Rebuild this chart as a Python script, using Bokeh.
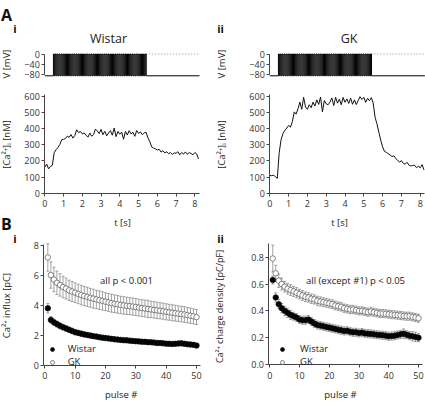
import math
from bokeh.plotting import figure
from bokeh.models import (ColumnDataSource, FixedTicker, Label, Legend, LegendItem,
                          Whisker, TeeHead, PrintfTickFormatter, Range1d, LinearAxis)
from bokeh.embed import file_html
from bokeh.resources import INLINE

FONT = "Open Sans"

# ---------------- data ----------------
# A: depolarising pulse train (onsets, s) and holding / pulse potentials (mV)
pulse_onsets_s = [0.46, 0.56, 0.66, 0.76, 0.86, 0.96, 1.06, 1.16, 1.26, 1.36,
                  1.46, 1.56, 1.66, 1.76, 1.86, 1.96, 2.06, 2.16, 2.26, 2.36,
                  2.46, 2.56, 2.66, 2.76, 2.86, 2.96, 3.06, 3.16, 3.26, 3.36,
                  3.46, 3.56, 3.66, 3.76, 3.86, 3.96, 4.06, 4.16, 4.26, 4.36,
                  4.46, 4.56, 4.66, 4.76, 4.86, 4.96, 5.06, 5.16, 5.26, 5.36]
pulse_width_s = 0.05
holding_mV = -85
pulse_mV = 0
v_ticks = [-80, -40, 0]

ca_time_s = [0.0, 0.1, 0.2, 0.3, 0.4, 0.5, 0.6, 0.7, 0.8, 0.9,
             1.0, 1.1, 1.2, 1.3, 1.4, 1.5, 1.6, 1.7, 1.8, 1.9,
             2.0, 2.1, 2.2, 2.3, 2.4, 2.5, 2.6, 2.7, 2.8, 2.9,
             3.0, 3.1, 3.2, 3.3, 3.4, 3.5, 3.6, 3.7, 3.8, 3.9,
             4.0, 4.1, 4.2, 4.3, 4.4, 4.5, 4.6, 4.7, 4.8, 4.9,
             5.0, 5.1, 5.2, 5.3, 5.4, 5.5, 5.6, 5.7, 5.8, 5.9,
             6.0, 6.1, 6.2, 6.3, 6.4, 6.5, 6.6, 6.7, 6.8, 6.9,
             7.0, 7.1, 7.2, 7.3, 7.4, 7.5, 7.6, 7.7, 7.8, 7.9,
             8.0, 8.1, 8.2]
ca_wistar_nM = [160, 180, 150, 165, 172, 250, 268, 282, 300, 330,
                332, 338, 352, 345, 362, 340, 356, 392, 374, 381,
                366, 372, 358, 346, 371, 352, 362, 396, 384, 368,
                394, 361, 382, 354, 372, 386, 358, 402, 349, 381,
                364, 377, 333, 382, 359, 386, 366, 376, 351, 387,
                369, 378, 361, 372, 376, 342, 318, 286, 279, 274,
                266, 271, 254, 262, 249, 256, 244, 251, 239, 249,
                246, 256, 237, 251, 241, 255, 240, 251, 245, 237,
                251, 242, 212]
ca_gk_nM = [110, 108, 111, 102, 92, 250, 330, 368, 388, 402,
            418, 408, 442, 502, 488, 522, 562, 518, 592, 532,
            518, 546, 528, 562, 538, 576, 548, 594, 502, 572,
            552, 546, 562, 588, 541, 592, 556, 581, 546, 591,
            561, 582, 554, 586, 549, 576, 547, 571, 596, 579,
            592, 561, 586, 571, 590, 556, 468, 428, 376, 328,
            286, 258, 252, 244, 236, 226, 231, 214, 204, 191,
            201, 184, 179, 191, 174, 168, 171, 173, 158, 166,
            157, 176, 144]
t_ticks = [0, 1, 2, 3, 4, 5, 6, 7, 8]
ca_ticks = [0, 100, 200, 300, 400, 500, 600]

# B: per-pulse Ca2+ influx and charge density (mean, SEM)
pulse_number = list(range(1, 51))
influx_wistar_pC = [3.80, 3.02, 2.86, 2.74, 2.62, 2.53, 2.45, 2.36, 2.28, 2.20,
                    2.15, 2.10, 2.05, 2.01, 1.97, 1.93, 1.90, 1.86, 1.83, 1.80,
                    1.78, 1.75, 1.72, 1.70, 1.68, 1.66, 1.65, 1.63, 1.61, 1.59,
                    1.58, 1.56, 1.55, 1.53, 1.52, 1.50, 1.48, 1.47, 1.45, 1.43,
                    1.42, 1.41, 1.42, 1.44, 1.45, 1.42, 1.39, 1.37, 1.35, 1.30]
influx_wistar_err = [0.32, 0.22, 0.21, 0.20, 0.20, 0.19, 0.19, 0.18, 0.18, 0.18,
                     0.17, 0.17, 0.17, 0.17, 0.16, 0.16, 0.16, 0.16, 0.16, 0.16,
                     0.15, 0.15, 0.15, 0.15, 0.15, 0.15, 0.15, 0.15, 0.15, 0.15,
                     0.15, 0.15, 0.15, 0.14, 0.14, 0.14, 0.14, 0.14, 0.14, 0.14,
                     0.14, 0.14, 0.15, 0.15, 0.16, 0.15, 0.15, 0.15, 0.15, 0.14]
influx_gk_pC = [7.20, 6.02, 5.72, 5.50, 5.36, 5.22, 5.12, 5.00, 4.92, 4.84,
                4.76, 4.68, 4.62, 4.56, 4.50, 4.44, 4.39, 4.34, 4.29, 4.24,
                4.19, 4.14, 4.10, 4.06, 4.02, 3.99, 3.96, 3.94, 3.91, 3.88,
                3.84, 3.81, 3.78, 3.75, 3.72, 3.69, 3.66, 3.63, 3.60, 3.56,
                3.53, 3.50, 3.47, 3.44, 3.41, 3.38, 3.34, 3.30, 3.26, 3.21]
influx_gk_err = [0.92, 0.88, 0.82, 0.78, 0.75, 0.72, 0.70, 0.68, 0.67, 0.66,
                 0.65, 0.65, 0.64, 0.64, 0.63, 0.63, 0.62, 0.62, 0.61, 0.60,
                 0.60, 0.60, 0.59, 0.59, 0.58, 0.58, 0.58, 0.57, 0.57, 0.57,
                 0.56, 0.56, 0.56, 0.58, 0.55, 0.55, 0.55, 0.54, 0.54, 0.54,
                 0.53, 0.53, 0.53, 0.52, 0.52, 0.52, 0.51, 0.51, 0.50, 0.50]
density_wistar = [0.63, 0.50, 0.45, 0.42, 0.40, 0.385, 0.37, 0.36, 0.35, 0.335,
                  0.33, 0.33, 0.335, 0.32, 0.305, 0.295, 0.29, 0.285, 0.28, 0.275,
                  0.27, 0.265, 0.26, 0.255, 0.25, 0.252, 0.245, 0.24, 0.24, 0.235,
                  0.238, 0.232, 0.23, 0.228, 0.225, 0.222, 0.22, 0.218, 0.215, 0.21,
                  0.212, 0.215, 0.22, 0.225, 0.23, 0.222, 0.215, 0.21, 0.205, 0.20]
density_wistar_err = [0.03, 0.035, 0.035, 0.035, 0.035, 0.035, 0.035, 0.03, 0.03, 0.03,
                      0.03, 0.03, 0.03, 0.03, 0.03, 0.03, 0.03, 0.03, 0.03, 0.03,
                      0.03, 0.03, 0.03, 0.03, 0.03, 0.03, 0.03, 0.03, 0.03, 0.03,
                      0.03, 0.03, 0.03, 0.03, 0.03, 0.03, 0.03, 0.03, 0.03, 0.03,
                      0.03, 0.03, 0.03, 0.03, 0.035, 0.03, 0.03, 0.035, 0.035, 0.03]
density_gk = [0.79, 0.68, 0.625, 0.60, 0.58, 0.565, 0.555, 0.545, 0.535, 0.525,
              0.515, 0.505, 0.50, 0.49, 0.485, 0.475, 0.47, 0.465, 0.46, 0.455,
              0.45, 0.44, 0.435, 0.43, 0.42, 0.415, 0.41, 0.41, 0.405, 0.40,
              0.40, 0.395, 0.39, 0.395, 0.39, 0.385, 0.38, 0.38, 0.378, 0.375,
              0.372, 0.37, 0.368, 0.365, 0.362, 0.36, 0.36, 0.355, 0.35, 0.345]
density_gk_err = [0.10, 0.06, 0.05, 0.045, 0.04, 0.04, 0.04, 0.038, 0.038, 0.036,
                  0.036, 0.035, 0.035, 0.035, 0.034, 0.034, 0.034, 0.033, 0.033, 0.033,
                  0.032, 0.032, 0.032, 0.032, 0.031, 0.031, 0.031, 0.031, 0.03, 0.03,
                  0.03, 0.03, 0.03, 0.032, 0.03, 0.03, 0.03, 0.03, 0.03, 0.03,
                  0.03, 0.03, 0.03, 0.03, 0.03, 0.03, 0.03, 0.03, 0.03, 0.03]
pulse_ticks = [0, 10, 20, 30, 40, 50]
influx_ticks = [0, 2, 4, 6, 8]
density_ticks = [0.0, 0.2, 0.4, 0.6, 0.8]

# ---------------- canvas geometry (page pixels; Bokeh's page has no body margin) ----
CANVAS_L, CANVAS_T = 0, 0
CANVAS_W, CANVAS_H = 425, 402
CANVAS_R, CANVAS_B = CANVAS_L + CANVAS_W, CANVAS_T + CANVAS_H
AXC = "#444"
TXT = "#222"
T_SPAN = (0, 8.25)
P_SPAN = (-0.3, 51.3)

p = figure(width=CANVAS_W, height=CANVAS_H,
           x_range=Range1d(CANVAS_L, CANVAS_R), y_range=Range1d(CANVAS_B, CANVAS_T),
           output_backend="svg", toolbar_location=None, tools="",
           x_axis_location=None, y_axis_location=None, min_border=0)
p.min_border_left = p.min_border_right = p.min_border_top = p.min_border_bottom = 0
p.outline_line_color = None
p.background_fill_color = "white"
p.border_fill_color = "white"
for g in p.grid:
    g.visible = False


def x_panel(name, data, page):
    k = (page[1] - page[0]) / (data[1] - data[0])
    p.extra_x_ranges[name] = Range1d(data[0] - (page[0] - CANVAS_L) / k,
                                     data[0] + (CANVAS_R - page[0]) / k)


def y_panel(name, data, page):
    # page[0]: page y of data[0] (lower value), page[1]: page y of data[1]
    k = (page[0] - page[1]) / (data[1] - data[0])
    p.extra_y_ranges[name] = Range1d(data[0] - (CANVAS_B - page[0]) / k,
                                     data[0] + (page[0] - CANVAS_T) / k)


x_panel("a1x", (0, 8), (44.3, 194.3))
x_panel("a2x", (0, 8), (269.3, 419.7))
x_panel("b1x", (0, 50), (44.3, 196.0))
x_panel("b2x", (0, 50), (269.3, 418.0))
y_panel("vy", (-80, 0), (74.0, 53.5))
y_panel("cay", (0, 600), (192.7, 95.5))
y_panel("b1y", (0, 8), (364.5, 245.0))
y_panel("b2y", (0, 0.8), (364.0, 256.7))


def style(ax, standoff):
    ax.axis_line_color = AXC
    ax.axis_line_width = 1
    ax.major_tick_line_color = AXC
    ax.major_tick_out = 3
    ax.major_tick_in = 0
    ax.minor_tick_line_color = None
    ax.major_label_standoff = standoff
    ax.major_label_text_font = FONT
    ax.major_label_text_font_size = "9px"
    ax.major_label_text_color = "#333"
    return ax


def y_axis(xn, yn, ticks, bounds, at, fmt=None):
    ax = style(LinearAxis(x_range_name=xn, y_range_name=yn, ticker=FixedTicker(ticks=ticks),
                          bounds=bounds, fixed_location=at), 2)
    if fmt:
        ax.formatter = PrintfTickFormatter(format=fmt)
    p.add_layout(ax, "left")


def x_axis(xn, yn, ticks, bounds, at):
    ax = style(LinearAxis(x_range_name=xn, y_range_name=yn, ticker=FixedTicker(ticks=ticks),
                          bounds=bounds, fixed_location=at), 4)
    p.add_layout(ax, "below")


def text(px, py, s, size="9.5px", bold=False, align="center", baseline="middle",
         angle=0.0, color=TXT):
    p.add_layout(Label(x=px, y=py, text=s, text_font=FONT, text_font_size=size,
                       text_font_style="bold" if bold else "normal",
                       text_align=align, text_baseline=baseline, angle=angle,
                       text_color=color))


# ---------------- A: voltage protocol + Ca traces ----------------
def voltage_xy():
    xs, ys = [T_SPAN[0]], [holding_mV]
    for on in pulse_onsets_s:
        off = on + pulse_width_s
        xs += [on, on, off, off]
        ys += [holding_mV, pulse_mV, pulse_mV, holding_mV]
    xs.append(T_SPAN[1])
    ys.append(holding_mV)
    return xs, ys


vx, vy = voltage_xy()
last_off = pulse_onsets_s[-1] + pulse_width_s
for xn, trace in (("a1x", ca_wistar_nM), ("a2x", ca_gk_nM)):
    p.segment(x0=[last_off], y0=[pulse_mV], x1=[T_SPAN[1]], y1=[pulse_mV],
              line_color="#777", line_width=0.8, line_dash="1 2",
              x_range_name=xn, y_range_name="vy")
    p.line(vx, vy, line_color="#000", line_width=1.0, x_range_name=xn, y_range_name="vy")
    y_axis(xn, "vy", v_ticks, (min(v_ticks), max(v_ticks)), T_SPAN[0])
    p.line(ca_time_s, trace, line_color="#111", line_width=1,
           x_range_name=xn, y_range_name="cay")
    y_axis(xn, "cay", ca_ticks, (0, 610), T_SPAN[0])
    x_axis(xn, "cay", t_ticks, T_SPAN, 0)

# ---------------- B: per-pulse summaries ----------------
GREY = "#8a8a8a"


def pulse_panel(xn, yn, wistar, wistar_err, gk, gk_err, ticks, ytop, fmt,
                leg_x, leg_standoff):
    rs = {}
    for name, vals, errs, fill, edge in (("GK", gk, gk_err, "white", "#555"),
                                         ("Wistar", wistar, wistar_err, "black", "#111")):
        src = ColumnDataSource(dict(
            pulse=pulse_number, val=vals,
            upper=[v + e for v, e in zip(vals, errs)],
            lower=[v - e for v, e in zip(vals, errs)]))
        p.add_layout(Whisker(source=src, base="pulse", upper="upper", lower="lower",
                             x_range_name=xn, y_range_name=yn,
                             line_color=GREY, line_width=0.8,
                             upper_head=TeeHead(size=3, line_color=GREY, line_width=0.8),
                             lower_head=TeeHead(size=3, line_color=GREY, line_width=0.8)))
        rs[name] = p.scatter("pulse", "val", source=src, marker="circle", size=5.5,
                             fill_color=fill, line_color=edge, line_width=0.7,
                             x_range_name=xn, y_range_name=yn)
    y_axis(xn, yn, ticks, (0, ytop), P_SPAN[0], fmt)
    x_axis(xn, yn, pulse_ticks, P_SPAN, 0)
    p.add_layout(Legend(items=[LegendItem(label="Wistar", renderers=[rs["Wistar"]]),
                               LegendItem(label="GK", renderers=[rs["GK"]])],
                        location=(leg_x, CANVAS_B - 368), glyph_width=12, glyph_height=10,
                        label_height=10, spacing=0, padding=0, margin=0,
                        label_standoff=leg_standoff, border_line_color=None,
                        background_fill_alpha=0, label_text_font=FONT,
                        label_text_font_size="9.5px", label_text_color=TXT,
                        label_text_line_height=1.0))


pulse_panel("b1x", "b1y", influx_wistar_pC, influx_wistar_err, influx_gk_pC,
            influx_gk_err, influx_ticks, 8.1, None, 45.7 - CANVAS_L, 10)
pulse_panel("b2x", "b2y", density_wistar, density_wistar_err, density_gk,
            density_gk_err, density_ticks, 0.9, "%.1f", 276 - CANVAS_L, 12)

# ---------------- texts ----------------
UP = math.pi / 2
text(0.5, 14, "A", "16px", True, align="left", baseline="alphabetic", color="#111")
text(14.5, 28, "i", "11px", True, baseline="alphabetic", color="#111")
text(108, 38, "Wistar", "12.5px")
text(220, 28, "ii", "11px", True, baseline="alphabetic", color="#111")
text(348.5, 38, "GK", "12.5px")
text(6, 63.5, "V [mV]", angle=UP)
text(221, 63.5, "V [mV]", angle=UP)
text(6, 144, "[Ca²⁺]ᵢ [nM]", angle=UP)
text(221, 144, "[Ca²⁺]ᵢ [nM]", angle=UP)
text(122, 222, "t [s]")
text(339, 222, "t [s]")
text(0.5, 223, "B", "16px", True, align="left", baseline="alphabetic", color="#111")
text(14.5, 238, "i", "11px", True, baseline="alphabetic", color="#111")
text(220, 238, "ii", "11px", True, baseline="alphabetic", color="#111")
text(6, 305, "Ca²⁺ influx [pC]", angle=UP)
text(219, 306, "Ca²⁺ charge density [pC/pF]", "9px", angle=UP)
text(120.7, 394, "pulse #")
text(340, 394, "pulse #")
text(126, 280, "all p < 0.001")
text(355, 280, "all (except #1) p < 0.05")

open("out.html", "w").write(file_html(p, INLINE))
